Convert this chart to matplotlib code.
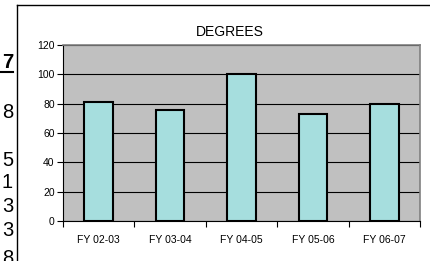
import matplotlib
matplotlib.use("Agg")
import matplotlib.pyplot as plt
from matplotlib.lines import Line2D
import numpy as np

plt.rcParams['font.family'] = ['Liberation Sans', 'DejaVu Sans']

# chart data
categories = ["FY 02-03", "FY 03-04", "FY 04-05", "FY 05-06", "FY 06-07"]
degrees = [81, 76, 100, 73, 80]
y_ticks = [0, 20, 40, 60, 80, 100, 120]

# clipped table digits on the left edge
side_digits = ["7", "8", "5", "1", "3", "3", "8"]
side_digit_y = [63, 112, 161, 183, 207, 230, 258]

W, H = 431, 261
fig = plt.figure(figsize=(W / 100, H / 100), dpi=100)
ax = fig.add_axes([63 / W, 1 - 221 / H, (420 - 63) / W, (221 - 45) / H])

x = np.arange(len(categories))
ax.set_facecolor("#C0C0C0")
ax.bar(x, degrees, width=0.4, color="#A6DEDE", edgecolor="black", linewidth=1.5, zorder=3)

ax.set_xlim(-0.5, len(categories) - 0.5)
ax.set_ylim(0, 120)
ax.set_yticks(y_ticks)
ax.set_yticklabels([str(t) for t in y_ticks], fontsize=7.5)
ax.yaxis.grid(True, color="black", linewidth=0.8, zorder=1)
ax.set_axisbelow(True)

# category labels centred, ticks on boundaries
ax.set_xticks(x)
ax.set_xticklabels(categories, fontsize=7.5)
ax.tick_params(axis="x", which="major", length=0, pad=10)
ax.set_xticks(np.arange(len(categories) + 1) - 0.5, minor=True)
ax.tick_params(axis="x", which="minor", length=4, width=0.8, direction="out")
ax.tick_params(axis="y", length=4, width=0.8, direction="out", pad=2)

for side in ["top", "right"]:
    ax.spines[side].set_color("#808080")
    ax.spines[side].set_linewidth(1.2)
for side in ["left", "bottom"]:
    ax.spines[side].set_color("black")
    ax.spines[side].set_linewidth(0.8)

fig.text(230 / W, 1 - 32 / H, "DEGREES", ha="center", va="center", fontsize=10)

# chart frame
fig.add_artist(Line2D([17 / W, 17 / W], [0, 1 - 5 / H], color="black", linewidth=1))
fig.add_artist(Line2D([17 / W, 1], [1 - 5 / H, 1 - 5 / H], color="black", linewidth=1))

for i, (d, yy) in enumerate(zip(side_digits, side_digit_y)):
    weight = "bold" if i == 0 else "normal"
    fig.text(13 / W, 1 - yy / H, d, ha="right", va="center", fontsize=14.5, fontweight=weight)
# underline under the bold header digit
fig.add_artist(Line2D([0, 13 / W], [1 - 72 / H, 1 - 72 / H], color="black", linewidth=1.5))

fig.savefig("out.png", dpi=100)
